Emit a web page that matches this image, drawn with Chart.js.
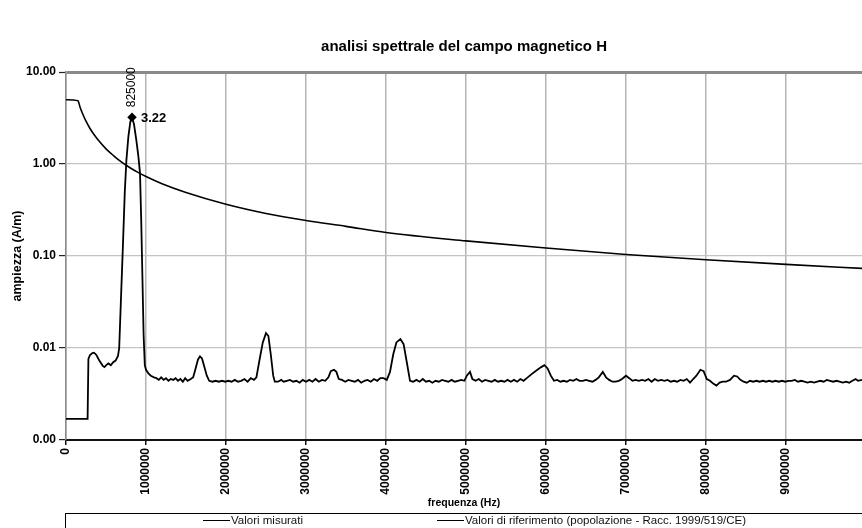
<!DOCTYPE html>
<html>
<head>
<meta charset="utf-8">
<title>analisi spettrale del campo magnetico H</title>
<script src="https://cdn.jsdelivr.net/npm/chart.js@4.4.0/dist/chart.umd.min.js"></script>
<style>
  html, body { margin: 0; padding: 0; background: #fff; }
  #wrap { width: 862px; height: 528px; }
</style>
</head>
<body>
<div id="wrap"><canvas id="spectrum" width="862" height="528"></canvas></div>
<script>
const chartTitle = 'analisi spettrale del campo magnetico H';
const seriesLabels = ['Valori misurati', 'Valori di riferimento (popolazione - Racc. 1999/519/CE)'];

// measured spectrum: [frequency in kHz, amplitude in A/m]
const measured = [
  [0, 0.0017], [270, 0.0017], [280, 0.0076], [300, 0.0084], [330, 0.0088], [350, 0.0089],
  [380, 0.0084], [420, 0.0072], [460, 0.0064], [480, 0.0062], [510, 0.0066], [530, 0.0068],
  [560, 0.0065], [590, 0.0070], [620, 0.0073], [650, 0.0082], [665, 0.0100], [690, 0.040],
  [710, 0.12], [735, 0.5], [755, 1.1], [780, 2.0], [805, 2.9], [825, 3.22], [850, 2.7],
  [880, 1.8], [905, 1.2], [925, 0.80], [940, 0.25], [955, 0.060], [970, 0.014], [985, 0.0065],
  [1000, 0.0058], [1030, 0.0053], [1060, 0.0050], [1100, 0.0048], [1130, 0.0047], [1160, 0.0045],
  [1190, 0.0048], [1220, 0.0045], [1250, 0.0047], [1280, 0.0044], [1310, 0.0046], [1340, 0.0045],
  [1370, 0.0047], [1400, 0.0044], [1430, 0.0046], [1460, 0.0043], [1490, 0.0047], [1520, 0.0044],
  [1560, 0.0046], [1590, 0.0048], [1620, 0.0060], [1650, 0.0075], [1675, 0.0081], [1700, 0.0077],
  [1730, 0.0062], [1760, 0.0050], [1790, 0.0044], [1830, 0.0043], [1870, 0.0044], [1910, 0.0043],
  [1950, 0.0044], [1990, 0.0043], [2030, 0.0044], [2070, 0.0043], [2110, 0.0045], [2150, 0.0043],
  [2190, 0.0044], [2230, 0.0046], [2270, 0.0043], [2310, 0.0047], [2350, 0.0045], [2380, 0.0048],
  [2420, 0.0075], [2460, 0.0115], [2500, 0.0145], [2530, 0.0135], [2560, 0.0085], [2590, 0.0050],
  [2610, 0.0043], [2650, 0.0043], [2690, 0.0045], [2720, 0.0043], [2760, 0.0044], [2800, 0.0045],
  [2840, 0.0043], [2880, 0.0044], [2920, 0.0042], [2960, 0.0045], [3000, 0.0043], [3040, 0.0045],
  [3080, 0.0043], [3120, 0.0046], [3160, 0.0043], [3200, 0.0045], [3240, 0.0044], [3280, 0.0048],
  [3310, 0.0056], [3350, 0.0058], [3380, 0.0055], [3410, 0.0046], [3450, 0.0045], [3490, 0.0043],
  [3530, 0.0045], [3570, 0.0044], [3610, 0.0043], [3650, 0.0045], [3690, 0.0042], [3730, 0.0044],
  [3770, 0.0045], [3810, 0.0043], [3850, 0.0046], [3890, 0.0044], [3930, 0.0047], [3970, 0.0047],
  [4010, 0.0045], [4050, 0.0055], [4090, 0.0085], [4130, 0.0115], [4180, 0.0125], [4220, 0.0110],
  [4260, 0.0070], [4300, 0.0044], [4340, 0.0043], [4380, 0.0045], [4420, 0.0043], [4460, 0.0046],
  [4500, 0.0043], [4540, 0.0044], [4580, 0.0042], [4620, 0.0044], [4660, 0.0043], [4700, 0.0045],
  [4740, 0.0044], [4780, 0.0043], [4820, 0.0045], [4860, 0.0043], [4900, 0.0044], [4940, 0.0045],
  [4980, 0.0044], [5010, 0.0050], [5050, 0.0055], [5080, 0.0046], [5120, 0.0044], [5160, 0.0046],
  [5200, 0.0043], [5240, 0.0045], [5280, 0.0044], [5320, 0.0043], [5360, 0.0045], [5400, 0.0043],
  [5440, 0.0044], [5480, 0.0043], [5520, 0.0045], [5560, 0.0043], [5600, 0.0045], [5640, 0.0043],
  [5680, 0.0046], [5720, 0.0044], [5760, 0.0047], [5820, 0.0052], [5880, 0.0057], [5940, 0.0062],
  [5980, 0.0065], [6020, 0.0060], [6060, 0.0050], [6100, 0.0044], [6140, 0.0045], [6180, 0.0043],
  [6220, 0.0044], [6260, 0.0043], [6300, 0.0045], [6340, 0.0044], [6380, 0.0046], [6420, 0.0044],
  [6460, 0.0044], [6500, 0.0045], [6540, 0.0044], [6580, 0.0043], [6620, 0.0045], [6660, 0.0048],
  [6710, 0.0055], [6750, 0.0048], [6790, 0.0045], [6830, 0.0043], [6870, 0.0043], [6910, 0.0044],
  [6950, 0.0046], [7000, 0.0050], [7040, 0.0047], [7080, 0.0044], [7120, 0.0045], [7160, 0.0044],
  [7200, 0.0045], [7240, 0.0044], [7280, 0.0046], [7320, 0.0043], [7360, 0.0046], [7400, 0.0044],
  [7440, 0.0045], [7480, 0.0044], [7520, 0.0045], [7560, 0.0043], [7600, 0.0044], [7640, 0.0043],
  [7680, 0.0045], [7720, 0.0044], [7760, 0.0046], [7800, 0.0042], [7840, 0.0046], [7880, 0.0050],
  [7930, 0.0058], [7970, 0.0056], [8010, 0.0046], [8050, 0.0044], [8090, 0.0041], [8130, 0.0039],
  [8170, 0.0042], [8210, 0.0043], [8250, 0.0043], [8300, 0.0045], [8350, 0.0050], [8390, 0.0049],
  [8430, 0.0045], [8470, 0.0043], [8510, 0.0042], [8550, 0.0044], [8590, 0.0043], [8630, 0.0044],
  [8670, 0.0043], [8710, 0.0044], [8750, 0.0043], [8790, 0.0044], [8830, 0.0043], [8870, 0.0044],
  [8910, 0.0043], [8950, 0.0044], [8990, 0.0043], [9030, 0.0044], [9070, 0.0044], [9110, 0.0045],
  [9150, 0.0043], [9190, 0.0044], [9230, 0.0043], [9270, 0.0042], [9310, 0.0043], [9350, 0.0042],
  [9390, 0.0043], [9430, 0.0044], [9470, 0.0043], [9510, 0.0045], [9550, 0.0044], [9590, 0.0043],
  [9630, 0.0044], [9670, 0.0043], [9710, 0.0042], [9750, 0.0043], [9790, 0.0042], [9830, 0.0044],
  [9870, 0.0046], [9900, 0.0044], [9950, 0.0045]
];

// reference levels: [frequency in kHz, A/m]
const referenceLevels = [
  [0, 5.0], [150, 4.87], [175, 4.17], [200, 3.65], [250, 2.92], [300, 2.43], [350, 2.09],
  [400, 1.83], [500, 1.46], [600, 1.22], [700, 1.04], [800, 0.91], [900, 0.81], [1000, 0.73],
  [1200, 0.61], [1500, 0.49], [2000, 0.365], [2500, 0.29], [3000, 0.243], [3500, 0.21],
  [4000, 0.18], [5000, 0.146], [6000, 0.122], [7000, 0.104], [8000, 0.091], [9000, 0.081],
  [10000, 0.073]
];

const xTickValues = [0, 1000000, 2000000, 3000000, 4000000, 5000000, 6000000, 7000000, 8000000, 9000000];
const xTickLabels = ['0', '1000000', '2000000', '3000000', '4000000', '5000000', '6000000', '7000000', '8000000', '9000000'];
const yTickValues = [0.001, 0.01, 0.1, 1, 10];
const yTickLabels = ['0.00', '0.01', '0.10', '1.00', '10.00'];

const fontFamily = '"Liberation Sans", Arial, sans-serif';
Chart.defaults.font.family = fontFamily;
Chart.defaults.color = '#000';

// index of the highest measured point (gets marker + labels)
let peakIndex = 0;
measured.forEach((p, i) => { if (p[1] > measured[peakIndex][1]) peakIndex = i; });

const peakLabels = {
  id: 'peakLabels',
  afterDatasetsDraw(chart) {
    const pt = chart.getDatasetMeta(0).data[peakIndex];
    const peak = chart.data.datasets[0].data[peakIndex];
    const ctx = chart.ctx;
    ctx.save();
    ctx.fillStyle = '#000';
    ctx.textAlign = 'left';
    ctx.textBaseline = 'middle';
    ctx.font = 'bold 13px ' + fontFamily;
    ctx.fillText(peak.y.toFixed(2), pt.x + 9, pt.y + 1);
    ctx.translate(pt.x, pt.y - 10);
    ctx.rotate(-Math.PI / 2);
    ctx.font = '12px ' + fontFamily;
    ctx.fillText(String(peak.x), 0, 0);
    ctx.restore();
  }
};

// excel-style legend box under the x axis
const boxLegend = {
  id: 'boxLegend',
  afterDraw(chart) {
    const ctx = chart.ctx;
    const top = 513.5;
    const starts = [203, 437];
    ctx.save();
    ctx.strokeStyle = '#000';
    ctx.lineWidth = 1;
    ctx.strokeRect(Math.round(chart.chartArea.left) - 0.5, top, chart.width, 40);
    ctx.font = '11.5px ' + fontFamily;
    ctx.textAlign = 'left';
    ctx.textBaseline = 'middle';
    ctx.fillStyle = '#111';
    chart.data.datasets.forEach((ds, i) => {
      const x = starts[i], y = 520.5;
      ctx.beginPath();
      ctx.moveTo(x, y);
      ctx.lineTo(x + 27, y);
      ctx.strokeStyle = ds.borderColor;
      ctx.stroke();
      ctx.fillText(ds.label, x + 28, y);
    });
    ctx.restore();
  }
};

new Chart(document.getElementById('spectrum'), {
  type: 'line',
  data: {
    datasets: [{
      label: seriesLabels[0],
      data: measured.map(([f, a]) => ({ x: f * 1000, y: a })),
      borderColor: '#000',
      borderWidth: 1.8,
      tension: 0,
      pointStyle: 'rectRot',
      pointRadius: (c) => c.dataIndex === peakIndex ? 3.5 : 0,
      pointBackgroundColor: '#000',
      pointBorderColor: '#000'
    }, {
      label: seriesLabels[1],
      data: referenceLevels.map(([f, a]) => ({ x: f * 1000, y: a })),
      borderColor: '#000',
      borderWidth: 1.6,
      cubicInterpolationMode: 'monotone',
      pointRadius: 0
    }]
  },
  options: {
    responsive: false,
    animation: false,
    layout: { padding: { left: 0, right: 0, top: 0, bottom: 16 } },
    plugins: {
      legend: { display: false },
      tooltip: { enabled: false },
      title: {
        display: true,
        text: chartTitle,
        fullSize: false,
        color: '#000',
        font: { size: 15, weight: 'bold' },
        padding: { top: 38, bottom: 16 }
      }
    },
    scales: {
      x: {
        type: 'linear',
        min: 0,
        max: 9950000,
        afterBuildTicks: (s) => { s.ticks = xTickValues.map(v => ({ value: v })); },
        ticks: {
          autoSkip: false,
          minRotation: 90,
          maxRotation: 90,
          padding: 3,
          color: '#000',
          font: { size: 12, weight: 'bold' },
          callback: (v, i) => xTickLabels[i]
        },
        grid: { color: '#b4b4b4', lineWidth: 1.5, tickColor: '#111', tickLength: 5, tickWidth: 1.5 },
        border: { color: '#111', width: 2 },
        title: {
          display: true,
          text: 'frequenza (Hz)',
          color: '#000',
          font: { size: 10.5, weight: 'bold' },
          padding: { top: 0, bottom: 3 }
        },
        afterFit: (s) => { s.height = 72; }
      },
      y: {
        type: 'logarithmic',
        min: 0.001,
        max: 10,
        afterBuildTicks: (s) => { s.ticks = yTickValues.map(v => ({ value: v })); },
        ticks: {
          padding: 3,
          color: '#000',
          font: { size: 12, weight: 'bold' },
          callback: (v, i) => yTickLabels[i]
        },
        grid: {
          color: (c) => c.tick && c.tick.value === 10 ? '#8a8a8a' : '#c4c4c4',
          lineWidth: (c) => c.tick && c.tick.value === 10 ? 3 : 1.2,
          tickColor: '#222',
          tickLength: 7,
          tickWidth: 1.2
        },
        border: { color: '#8a8a8a', width: 1.5 },
        title: {
          display: true,
          text: 'ampiezza (A/m)',
          color: '#000',
          font: { size: 12.5, weight: 'bold' },
          padding: { top: 10, bottom: 0 }
        },
        afterFit: (s) => { s.width = 66; }
      }
    }
  },
  plugins: [peakLabels, boxLegend]
});
</script>
</body>
</html>
